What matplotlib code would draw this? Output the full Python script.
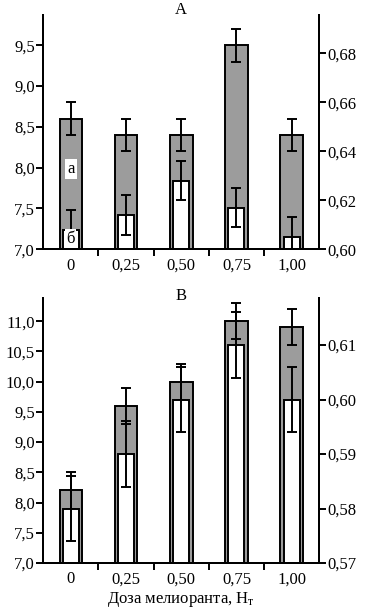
import matplotlib.pyplot as plt
import numpy as np

plt.rcParams['font.family'] = ['Liberation Serif', 'DejaVu Serif']
plt.rcParams['font.size'] = 12

doses = ['0', '0,25', '0,50', '0,75', '1,00']

# panel A
a_gray = [8.6, 8.4, 8.4, 9.5, 8.4]
a_gray_err = [0.2, 0.2, 0.2, 0.2, 0.2]
a_white = [0.608, 0.614, 0.628, 0.617, 0.605]
a_white_err = [0.008, 0.008, 0.008, 0.008, 0.008]
a_left_ticks = [7.0, 7.5, 8.0, 8.5, 9.0, 9.5]
a_left_labels = ['7,0', '7,5', '8,0', '8,5', '9,0', '9,5']
a_right_ticks = [0.60, 0.62, 0.64, 0.66, 0.68]
a_right_labels = ['0,60', '0,62', '0,64', '0,66', '0,68']

# panel B
b_gray = [8.2, 9.6, 10.0, 11.0, 10.9]
b_gray_err = [0.3, 0.3, 0.3, 0.3, 0.3]
b_white = [0.580, 0.590, 0.600, 0.610, 0.600]
b_white_err = [0.006, 0.006, 0.006, 0.006, 0.006]
b_left_ticks = [7.0, 7.5, 8.0, 8.5, 9.0, 9.5, 10.0, 10.5, 11.0]
b_left_labels = ['7,0', '7,5', '8,0', '8,5', '9,0', '9,5', '10,0', '10,5', '11,0']
b_right_ticks = [0.57, 0.58, 0.59, 0.60, 0.61]
b_right_labels = ['0,57', '0,58', '0,59', '0,60', '0,61']

fig = plt.figure(figsize=(3.69, 6.11), dpi=100)
GRAY = '#9c9c9c'
LW = 1.4


def panel(rect, gray, gerr, white, werr, lyl, ryl, lt, ll, rt, rl):
    ax = fig.add_axes(rect)
    ax2 = ax.twinx()
    x = np.arange(len(doses))
    ax.bar(x, [g - lyl[0] for g in gray], bottom=lyl[0], width=0.41,
           color=GRAY, edgecolor='black', linewidth=LW, zorder=2)
    ax.errorbar(x, gray, yerr=gerr, fmt='none', ecolor='black',
                elinewidth=1.4, capsize=3.5, capthick=1.4, zorder=3)
    ax2.bar(x, [w - ryl[0] for w in white], bottom=ryl[0], width=0.29,
            color='white', edgecolor='black', linewidth=LW, zorder=2)
    ax2.errorbar(x, white, yerr=werr, fmt='none', ecolor='black',
                 elinewidth=1.4, capsize=3.5, capthick=1.4, zorder=3)
    ax.set_xlim(-0.5, 4.5)
    ax.set_ylim(*lyl)
    ax2.set_ylim(*ryl)
    ax.set_yticks(lt)
    ax.set_yticklabels(ll)
    ax2.set_yticks(rt)
    ax2.set_yticklabels(rl)
    ax.set_xticks(x)
    ax.set_xticklabels(doses)
    ax.set_xticks([0.5, 1.5, 2.5, 3.5], minor=True)
    ax.tick_params(axis='x', which='major', length=0, pad=6)
    ax.tick_params(axis='x', which='minor', length=5, width=LW, direction='out')
    ax.tick_params(axis='y', length=5, width=LW, direction='out', pad=1)
    ax2.tick_params(axis='y', length=5, width=LW, direction='out', pad=1)
    for a in (ax, ax2):
        a.spines['top'].set_visible(False)
        for s in ('left', 'right', 'bottom'):
            a.spines[s].set_linewidth(LW)
    ax.patch.set_visible(False)
    return ax, ax2


axA, axA2 = panel([0.1173, 0.592, 0.748, 0.3835], a_gray, a_gray_err,
                  a_white, a_white_err, (7.0, 9.87), (0.60, 0.6956),
                  a_left_ticks, a_left_labels, a_right_ticks, a_right_labels)
axA2.text(0, 7.98, 'а', transform=axA.transData, ha='center', va='center',
          bbox=dict(facecolor='white', edgecolor='none', pad=1.5), zorder=5)
axA2.text(0, 7.13, 'б', transform=axA.transData, ha='center', va='center',
          bbox=dict(facecolor='white', edgecolor='none', pad=1.0), zorder=5)

axB, axB2 = panel([0.1173, 0.0786, 0.748, 0.4332], b_gray, b_gray_err,
                  b_white, b_white_err, (7.0, 11.38), (0.57, 0.6186),
                  b_left_ticks, b_left_labels, b_right_ticks, b_right_labels)

fig.text(0.49, 0.996, 'А', ha='center', va='top')
fig.text(0.49, 0.528, 'В', ha='center', va='top')
fig.text(0.49, 0.004, 'Доза мелиоранта, Н$\\mathregular{_т}$', ha='center', va='bottom')

fig.savefig('out.png', dpi=100)
